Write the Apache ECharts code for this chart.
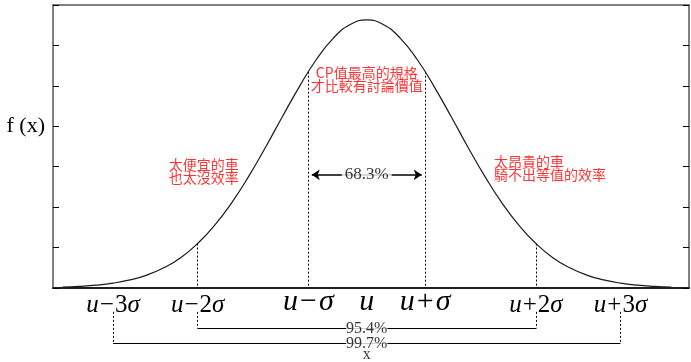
<!DOCTYPE html>
<html>
<head>
<meta charset="utf-8">
<script src="https://cdn.jsdelivr.net/npm/echarts@6/dist/echarts.min.js"></script>
<style>
html,body{margin:0;padding:0;background:#fff;}
#c{width:691px;height:362px;}
</style>
</head>
<body>
<div id="c"></div>
<script>
// ---- data (x in units of sigma from the mean, y in axis units 0..7) ----
const curveX = [-3.6,-3.4,-3.2,-3.0,-2.8,-2.6,-2.4,-2.2,-2.0,-1.8,-1.6,-1.4,-1.2,-1.0,-0.8,-0.6,-0.4,-0.2,0,
                0.2,0.4,0.6,0.8,1.0,1.2,1.4,1.6,1.8,2.0,2.2,2.4,2.6,2.8,3.0,3.2,3.4,3.6];
const curveY = [0.02,0.04,0.07,0.12,0.20,0.32,0.50,0.75,1.10,1.55,2.10,2.75,3.47,4.23,4.97,5.64,6.17,6.51,6.63,
                6.51,6.17,5.64,4.97,4.23,3.47,2.75,2.10,1.55,1.10,0.75,0.50,0.32,0.20,0.12,0.07,0.04,0.02];

const tickLabels = ['u−3σ','u−2σ','u−σ','u','u+σ','u+2σ','u+3σ'];
const tickPositions = [-3,-2,-0.69,0,0.69,2,3];
const tickLarge = [false,false,true,true,true,false,false];

const guidePositions = [-2,-0.69,0.69,2];
const guideHeights = [1.10,5.35,5.35,1.10];

const bracketHalfWidths = [2,3];
const bracketLevels = [-1.0,-1.37];
const bracketTexts = ['95.4%','99.7%'];
const bracketTop = -0.59;

const arrowEnds = [-0.65,0.65];
const arrowLevel = 2.8;
const arrowText = '68.3%';

const yTickLabel = 'f (x)';
const yTickLabelValue = 4;
const xAxisName = 'x';

const noteTexts = ['CP值最高的規格\n才比較有討論價值','太便宜的車\n也太沒效率','太昂貴的車\n騎不出等值的效率'];
const notePositions = [[0,5.16],[-2.34,2.90],[1.505,2.96]];
const noteAligns = ['center','left','left'];

// ---- build ----
const curveData = curveX.map((x,i)=>[x,curveY[i]]);

function richLabel(s, large){
  const p = large ? 'L' : 'S';
  let out = '';
  for (const ch of s){
    if (ch==='u' || ch==='σ') out += '{'+p+'i|'+ch+'}';
    else if (ch==='−' || ch==='+') out += '{'+p+'o|'+ch+'}';
    else out += '{'+p+'n|'+ch+'}';
  }
  return out;
}

const dottedSegs = [];
guidePositions.forEach((x,i)=>dottedSegs.push({coords:[[x,guideHeights[i]],[x,0]]}));
bracketHalfWidths.forEach((w,i)=>{
  dottedSegs.push({coords:[[-w,bracketTop],[-w,bracketLevels[i]]]});
  dottedSegs.push({coords:[[w,bracketTop],[w,bracketLevels[i]]]});
});
const bracketSegs = bracketHalfWidths.map((w,i)=>({coords:[[-w,bracketLevels[i]],[w,bracketLevels[i]]]}));

const serif = "'Liberation Serif','Times New Roman',serif";
const cjk = "'Noto Sans CJK TC','Noto Sans CJK SC',sans-serif";

const textItems = [];
bracketTexts.forEach((t,i)=>textItems.push({value:[0,bracketLevels[i]],name:t,
  label:{fontFamily:serif,fontSize:16,color:'#000',backgroundColor:'#fff',padding:[0,0],lineHeight:14}}));
textItems.push({value:[0,arrowLevel],name:arrowText,
  label:{fontFamily:serif,fontSize:17,color:'#000',backgroundColor:'#fff',padding:[1,3]}});
textItems.push({value:[0,-1.64],name:xAxisName,
  label:{fontFamily:serif,fontSize:16,color:'#000'}});
noteTexts.forEach((t,i)=>textItems.push({value:notePositions[i],name:t,
  label:{fontFamily:cjk,fontSize:14,lineHeight:13,color:'#ff0000',align:noteAligns[i]}}));

const chart = echarts.init(document.getElementById('c'),null,{renderer:'canvas'});
chart.setOption({
  animation:false,
  backgroundColor:'#fff',
  grid:{left:53,right:2,top:5,bottom:74,show:true,borderColor:'#808080',borderWidth:2},
  xAxis:{
    type:'value',min:-3.71,max:3.81,
    axisLine:{show:true,onZero:false,lineStyle:{color:'#000',width:1.5}},
    axisTick:{show:false},splitLine:{show:false},
    axisLabel:{
      customValues:tickPositions,
      margin:1,
      formatter:(v)=>{const i=tickPositions.indexOf(v);return i<0?'':richLabel(tickLabels[i],tickLarge[i]);},
      rich:{
        Si:{fontFamily:serif,fontStyle:'italic',fontSize:25,lineHeight:32,color:'#000'},
        Sn:{fontFamily:serif,fontSize:25,lineHeight:32,color:'#000'},
        So:{fontFamily:serif,fontSize:25,lineHeight:32,color:'#000',padding:[0,1]},
        Li:{fontFamily:serif,fontStyle:'italic',fontSize:30,lineHeight:27,color:'#000'},
        Ln:{fontFamily:serif,fontSize:30,lineHeight:27,color:'#000'},
        Lo:{fontFamily:serif,fontSize:30,lineHeight:27,color:'#000',padding:[0,2]}
      }
    }
  },
  yAxis:[{
    type:'value',min:0,max:7,interval:1,position:'left',
    axisLine:{show:true,onZero:false,lineStyle:{color:'#808080',width:2}},
    axisTick:{show:true,inside:true,length:6,lineStyle:{color:'#000',width:1}},
    splitLine:{show:false},
    axisLabel:{margin:8,fontFamily:serif,fontSize:22,color:'#000',
      formatter:(v)=>v===yTickLabelValue?yTickLabel:''}
  },{
    type:'value',min:0,max:7,interval:1,position:'right',
    axisLine:{show:true,onZero:false,lineStyle:{color:'#808080',width:2}},
    axisTick:{show:true,inside:true,length:6,lineStyle:{color:'#000',width:1}},
    splitLine:{show:false},axisLabel:{show:false}
  }],
  series:[
    {type:'line',data:curveData,smooth:true,showSymbol:false,
     lineStyle:{color:'#1a1a1a',width:1.2},z:3},
    {type:'lines',coordinateSystem:'cartesian2d',clip:false,data:dottedSegs,
     lineStyle:{color:'#000',width:1,type:[2,2],opacity:1},z:2},
    {type:'lines',coordinateSystem:'cartesian2d',clip:false,data:bracketSegs,
     lineStyle:{color:'#000',width:1.2,type:'solid',opacity:1},z:2},
    {type:'lines',coordinateSystem:'cartesian2d',clip:false,
     data:[{coords:[[arrowEnds[0],arrowLevel],[arrowEnds[1],arrowLevel]]}],
     symbol:['arrow','arrow'],symbolSize:8,
     lineStyle:{color:'#000',width:1.6,type:'solid',opacity:1},z:2},
    {type:'scatter',clip:false,symbolSize:0,data:textItems,z:6,
     label:{show:true,position:'inside',formatter:(p)=>p.name}}
  ]
});
</script>
</body>
</html>
